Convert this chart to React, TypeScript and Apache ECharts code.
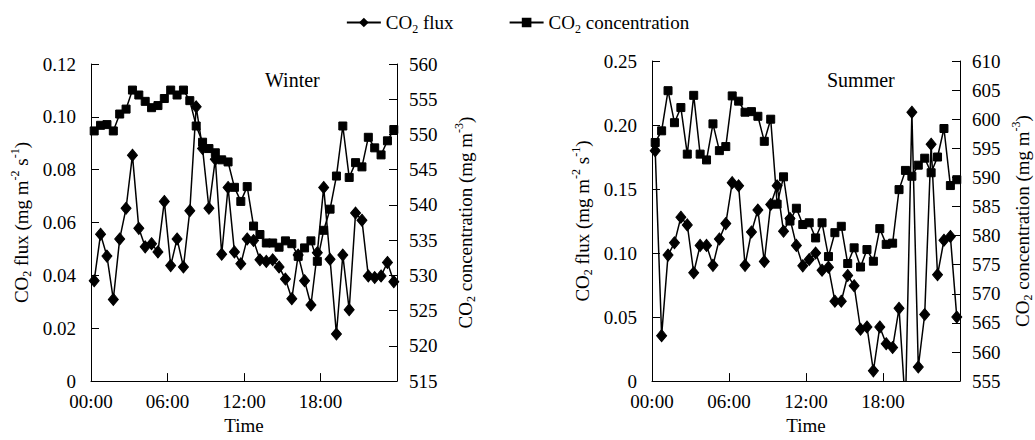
import React, { useEffect, useRef } from 'react';
import * as echarts from 'echarts';

// half-hourly sampling times (hours of day)
const HOURS = [
  0.25, 0.75, 1.25, 1.75, 2.25, 2.75, 3.25, 3.75, 4.25, 4.75, 5.25, 5.75,
  6.25, 6.75, 7.25, 7.75, 8.25, 8.75, 9.25, 9.75, 10.25, 10.75, 11.25, 11.75,
  12.25, 12.75, 13.25, 13.75, 14.25, 14.75, 15.25, 15.75, 16.25, 16.75, 17.25, 17.75,
  18.25, 18.75, 19.25, 19.75, 20.25, 20.75, 21.25, 21.75, 22.25, 22.75, 23.25, 23.75,
];

const X_TICK_LABELS = ['00:00', '06:00', '12:00', '18:00'];

const WINTER_FLUX = [
  0.038, 0.0556, 0.0473, 0.0309, 0.0538, 0.0654, 0.0855, 0.0578, 0.0508, 0.052, 0.0489, 0.068,
  0.0437, 0.0538, 0.0432, 0.0645, 0.1038, 0.088, 0.0654, 0.084, 0.048, 0.0733, 0.0489, 0.0444,
  0.0538, 0.0532, 0.0459, 0.0453, 0.0459, 0.0432, 0.0386, 0.0312, 0.0477, 0.038, 0.0288, 0.0486,
  0.0733, 0.0461, 0.0178, 0.0477, 0.027, 0.0636, 0.0609, 0.0398, 0.0392, 0.0398, 0.0449, 0.0376,
];

const WINTER_CONC = [
  550.5, 551.3, 551.4, 550.5, 552.9, 553.6, 556.3, 555.6, 554.7, 553.8, 554.1, 555.1,
  556.3, 555.6, 556.3, 554.8, 551.2, 548.9, 548.0, 547.4, 546.4, 546.1, 542.5, 540.5,
  542.6, 537.0, 535.8, 534.6, 534.6, 534.0, 534.9, 534.5, 532.7, 533.9, 534.9, 532.0,
  536.4, 539.4, 544.1, 551.2, 543.9, 546.0, 545.4, 549.6, 548.1, 547.1, 549.1, 550.7,
];

const SUMMER_FLUX = [
  0.18, 0.0355, 0.0984, 0.108, 0.128, 0.122, 0.0846, 0.106, 0.106, 0.0904, 0.111, 0.123,
  0.155, 0.1525, 0.0904, 0.1165, 0.1336, 0.0934, 0.138, 0.1525, 0.117, 0.127, 0.106, 0.09,
  0.095, 0.1, 0.0866, 0.089, 0.0624, 0.0624, 0.0825, 0.0745, 0.0405, 0.0423, 0.008, 0.0423,
  0.0292, 0.0262, 0.0568, -0.02, 0.21, 0.011, 0.052, 0.185, 0.083, 0.11, 0.113, 0.05,
];

const SUMMER_CONC = [
  596.0, 598.0, 604.9, 599.4, 602.0, 594.0, 604.1, 594.0, 593.0, 599.2, 594.6, 595.3,
  604.0, 603.1, 601.2, 601.3, 600.5, 596.2, 600.0, 585.4, 590.1, 582.5, 584.7, 581.9,
  582.2, 579.6, 582.2, 576.4, 580.5, 581.6, 575.2, 577.9, 574.6, 577.6, 575.6, 581.2,
  578.5, 578.7, 587.9, 591.2, 590.2, 592.1, 593.3, 590.8, 593.5, 598.4, 588.6, 589.6,
];

const FONT = '"Liberation Serif", "Times New Roman", serif';

const FLUX_NAME = 'CO2 flux';
const CONC_NAME = 'CO2 concentration';

const rich = {
  n: { fontSize: 19, lineHeight: 24, fontFamily: FONT, color: '#000' },
  s: { fontSize: 12, lineHeight: 12, verticalAlign: 'bottom', fontFamily: FONT, color: '#000' },
  p: { fontSize: 12, lineHeight: 12, verticalAlign: 'top', fontFamily: FONT, color: '#000' },
};

const FLUX_AXIS_NAME = '{n|CO}{s|2}{n| flux (mg m}{p|-2}{n| s}{p|-1}{n|)}';
const CONC_AXIS_NAME = '{n|CO}{s|2}{n| concentration (mg m}{p|-3}{n|)}';

function pair(values: number[]) {
  return values.map((v, i) => [HOURS[i], v]);
}

function xAxis(gridIndex: number) {
  return {
    gridIndex,
    type: 'value',
    min: 0,
    max: 24,
    interval: 6,
    name: 'Time',
    nameLocation: 'middle',
    nameGap: 30,
    nameTextStyle: { fontSize: 19, color: '#000', fontFamily: FONT },
    axisLine: { show: true, lineStyle: { color: '#000', width: 1 } },
    axisTick: { show: true, inside: true, length: 8, lineStyle: { color: '#000' } },
    axisLabel: {
      color: '#000',
      fontSize: 19,
      fontFamily: FONT,
      margin: 11,
      formatter: (v: number) => (v >= 24 ? '' : X_TICK_LABELS[Math.round(v / 6)]),
    },
    splitLine: { show: false },
  };
}

function yAxis(gridIndex: number, position: string, min: number, max: number, interval: number,
  name: string, nameGap: number, margin: number, formatter: (v: number) => string) {
  return {
    gridIndex,
    type: 'value',
    position,
    min,
    max,
    interval,
    name,
    nameLocation: 'middle',
    nameGap,
    nameTextStyle: { fontSize: 19, color: '#000', fontFamily: FONT, rich },
    axisLine: { show: true, lineStyle: { color: '#000', width: 1 } },
    axisTick: { show: true, inside: true, length: 8, lineStyle: { color: '#000' } },
    axisLabel: { color: '#000', fontSize: 19, fontFamily: FONT, margin, formatter },
    splitLine: { show: false },
  };
}

const fluxFmt = (v: number) => (Math.abs(v) < 1e-9 ? '0' : v.toFixed(2));
const concFmt = (v: number) => String(Math.round(v));

function lineSeries(name: string, xi: number, yi: number, data: number[], symbol: string, size: any) {
  return {
    name,
    type: 'line',
    xAxisIndex: xi,
    yAxisIndex: yi,
    data: pair(data),
    symbol,
    symbolSize: size,
    showAllSymbol: true,
    clip: true,
    lineStyle: { color: '#000', width: 1.5 },
    itemStyle: { color: '#000', borderColor: '#000' },
  };
}

export default function App() {
  const ref = useRef<HTMLDivElement>(null);

  useEffect(() => {
    if (!ref.current) return;
    const chart = echarts.init(ref.current, undefined, { renderer: 'svg' });
    chart.setOption({
      animation: false,
      backgroundColor: '#fff',
      textStyle: { fontFamily: FONT, color: '#000' },
      legend: {
        left: 'center',
        top: 8,
        itemWidth: 34,
        itemHeight: 12,
        itemGap: 55,
        data: [FLUX_NAME, CONC_NAME],
        formatter: (n: string) =>
          n === FLUX_NAME ? '{n|CO}{s|2}{n| flux}' : '{n|CO}{s|2}{n| concentration}',
        textStyle: { fontSize: 19, color: '#000', fontFamily: FONT, rich },
      },
      grid: [
        { left: 91, top: 64, width: 306, height: 328 },
        { left: 652, top: 61, width: 308, height: 331 },
      ],
      xAxis: [xAxis(0), xAxis(1)],
      yAxis: [
        yAxis(0, 'left', 0, 0.12, 0.02, FLUX_AXIS_NAME, 58, 15, fluxFmt),
        yAxis(0, 'right', 515, 560, 5, CONC_AXIS_NAME, 56, 12, concFmt),
        yAxis(1, 'left', 0, 0.25, 0.05, FLUX_AXIS_NAME, 58, 15, fluxFmt),
        yAxis(1, 'right', 555, 610, 5, CONC_AXIS_NAME, 50, 12, concFmt),
      ],
      graphic: [
        { type: 'text', left: 265, top: 70, style: { text: 'Winter', fontSize: 20, fontFamily: FONT, fill: '#000' } },
        { type: 'text', left: 827, top: 70, style: { text: 'Summer', fontSize: 20, fontFamily: FONT, fill: '#000' } },
      ],
      series: [
        lineSeries(FLUX_NAME, 0, 0, WINTER_FLUX, 'diamond', [10, 12]),
        lineSeries(CONC_NAME, 0, 1, WINTER_CONC, 'rect', 8),
        lineSeries(FLUX_NAME, 1, 2, SUMMER_FLUX, 'diamond', [10, 12]),
        lineSeries(CONC_NAME, 1, 3, SUMMER_CONC, 'rect', 8),
      ],
    });
    return () => chart.dispose();
  }, []);

  return (
    <div
      ref={ref}
      style={{ position: 'absolute', left: 0, top: 0, width: 1035, height: 440, background: '#fff' }}
    />
  );
}
